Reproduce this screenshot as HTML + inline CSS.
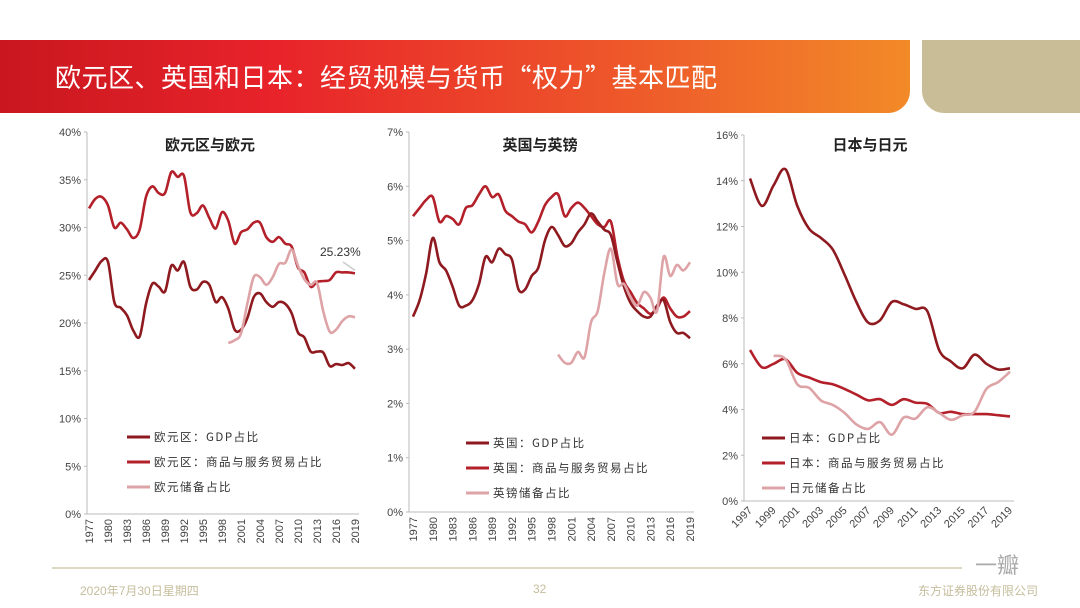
<!DOCTYPE html>
<html><head><meta charset="utf-8">
<style>
body{margin:0;width:1080px;height:608px;background:#fff;overflow:hidden;font-family:"Liberation Sans","Noto Sans CJK SC",sans-serif;position:relative}
.hdr{position:absolute;left:0;top:40px;width:910px;height:73px;background:linear-gradient(90deg,#c9171f 0%,#e8232a 30%,#ee5a2a 70%,#f28a28 100%);border-bottom-right-radius:22px}
.hdr span{position:absolute;left:55px;top:18px;color:#fff;font-size:26px;font-family:"Noto Sans CJK SC",sans-serif;letter-spacing:0.5px}
.beige{position:absolute;left:922px;top:40px;width:158px;height:73px;background:#c9bd98;border-bottom-left-radius:22px}
.foot{position:absolute;top:582px;font-size:12px;color:#c5bd9c;font-family:"Liberation Sans","Noto Sans CJK SC",sans-serif}
.line{position:absolute;left:52px;top:567px;width:910px;height:2px;background:#dcd8c4}
</style></head><body>
<div class="hdr"><span>欧元区、英国和日本：经贸规模与货币“权力”基本匹配</span></div>
<div class="beige"></div>
<svg id="c" width="1080" height="608" style="position:absolute;left:0;top:0"></svg>
<div class="line"></div>
<div class="foot" style="left:80px">2020年7月30日星期四</div>
<div class="foot" style="left:533px">32</div>
<div class="foot" style="left:918px">东方证券股份有限公司</div>
<div class="foot" style="left:975px;top:548px;font-size:22px;color:#aaa">一瓣</div>
<script>
// Chart 1 data: Eurozone
const ezYears=[];for(let y=1977;y<=2019;y++)ezYears.push(y);
const ezTrade=[32.0,33.0,33.2,32.3,30.0,30.5,29.8,28.9,29.8,33.2,34.3,33.6,33.6,35.8,35.3,35.4,31.6,31.5,32.3,31.0,29.9,31.6,30.7,28.3,29.5,29.8,30.5,30.5,29.0,28.5,29.0,28.3,28.0,25.8,25.3,23.8,24.3,24.4,24.5,25.3,25.3,25.3,25.2];
const ezGdp=[24.5,25.5,26.5,26.4,22.2,21.6,20.8,19.2,18.6,22.0,24.1,23.8,23.3,26.0,25.5,26.4,23.8,23.5,24.3,24.0,22.2,22.7,21.5,19.3,19.3,20.5,22.7,23.1,22.2,21.7,22.2,22.0,21.0,19.0,18.5,17.0,17.0,16.9,15.5,15.7,15.6,15.8,15.2];
const ezRes=[17.9,18.2,18.9,22.0,24.8,24.8,24.0,24.8,26.2,26.3,27.7,26.0,24.6,24.0,24.2,21.2,19.1,19.3,20.2,20.7,20.6];
const ezTicks=[0,5,10,15,20,25,30,35,40];
// Chart 2 data: UK
const ukTrade=[5.45,5.6,5.75,5.8,5.35,5.45,5.4,5.3,5.6,5.65,5.85,6.0,5.8,5.85,5.55,5.45,5.35,5.3,5.15,5.35,5.65,5.8,5.85,5.45,5.6,5.7,5.6,5.45,5.3,5.25,5.35,4.7,4.25,4.05,3.85,3.75,3.65,3.75,3.95,3.75,3.6,3.6,3.7];
const ukGdp=[3.6,3.9,4.4,5.05,4.6,4.45,4.15,3.8,3.8,3.9,4.2,4.7,4.6,4.85,4.75,4.65,4.1,4.1,4.35,4.5,5.0,5.25,5.1,4.9,4.95,5.15,5.3,5.5,5.35,5.2,5.1,4.6,4.15,3.85,3.7,3.6,3.6,3.8,3.9,3.5,3.3,3.3,3.2];
const ukRes=[2.9,2.75,2.75,2.95,2.85,3.5,3.7,4.4,4.85,4.2,4.2,3.95,3.8,4.05,3.95,3.7,4.7,4.35,4.55,4.45,4.6];
const ukTicks=[0,1,2,3,4,5,6,7];
// Chart 3 data: Japan
const jpYears=[];for(let y=1997;y<=2019;y++)jpYears.push(y);
const jpGdp=[14.1,12.9,13.8,14.5,12.9,11.9,11.5,11.0,9.9,8.7,7.8,7.9,8.7,8.6,8.4,8.3,6.6,6.1,5.8,6.4,6.0,5.75,5.8];
const jpTrade=[6.6,5.85,6.0,6.2,5.6,5.4,5.2,5.1,4.9,4.65,4.4,4.45,4.2,4.45,4.3,4.25,3.85,3.9,3.8,3.8,3.8,3.75,3.7];
const jpRes=[6.35,6.2,5.1,4.95,4.4,4.2,3.85,3.35,3.15,3.45,2.9,3.65,3.6,4.1,3.85,3.55,3.75,3.9,4.9,5.2,5.65];
const jpTicks=[0,2,4,6,8,10,12,14,16];

const NS='http://www.w3.org/2000/svg';
const svg=document.getElementById('c');
function mk(t,a,p){const e=document.createElementNS(NS,t);for(const k in a)e.setAttribute(k,a[k]);(p||svg).appendChild(e);return e;}
const C_GDP='#8e1a20',C_TR='#b3202a',C_RES='#dea3a6';
function smooth(pts){let d='M'+pts[0][0]+','+pts[0][1];for(let i=0;i<pts.length-1;i++){const p0=pts[i-1]||pts[i],p1=pts[i],p2=pts[i+1],p3=pts[i+2]||p2;const c1=[p1[0]+(p2[0]-p0[0])/6,p1[1]+(p2[1]-p0[1])/6],c2=[p2[0]-(p3[0]-p1[0])/6,p2[1]-(p3[1]-p1[1])/6];d+=' C'+c1[0].toFixed(1)+','+c1[1].toFixed(1)+' '+c2[0].toFixed(1)+','+c2[1].toFixed(1)+' '+p2[0].toFixed(1)+','+p2[1].toFixed(1);}return d;}
function chart(o){
  const g=mk('g',{});
  
  
  const yS=v=>o.y0-(v/o.ymax)*(o.y0-o.y1);
  const xS=yr=>o.x0+(yr-o.years[0])/(o.years[o.years.length-1]-o.years[0])*(o.x1-o.x0);
  const ax=mk('line',{x1:o.ax,y1:o.y1,x2:o.ax,y2:o.y0,stroke:'#bbb','stroke-width':1},g);
  
  const bx=mk('line',{x1:o.ax,y1:o.y0,x2:o.x1+4,y2:o.y0,stroke:'#bbb','stroke-width':1},g);
  
  o.ticks.forEach(t=>{const y=yS(t);mk('line',{x1:o.ax-3,y1:y,x2:o.ax,y2:y,stroke:'#bbb'},g);
    const tx=mk('text',{x:o.ax-6,y:y+4,'text-anchor':'end','font-size':11,fill:'#444'},g);tx.textContent=t+'%';
    });
  o.years.forEach((yr,i)=>{if(i%o.step)return;const x=xS(yr);let tx;
    if(o.diag){tx=mk('text',{x:x+3,y:o.y0+10,'text-anchor':'end','font-size':11,fill:'#444',transform:`rotate(-45 ${x+3} ${o.y0+10})`},g);}
    else{tx=mk('text',{x:x+4,y:o.y0+5,'text-anchor':'end','font-size':11,fill:'#444',transform:`rotate(-90 ${x+4} ${o.y0+5})`},g);}
    tx.textContent=yr;});
  const tt=mk('text',{x:o.tx,y:150,'text-anchor':'middle','font-size':15,'font-weight':'bold',fill:'#222','font-family':'"Noto Sans CJK SC",sans-serif'},g);
  tt.textContent=o.title;
  o.series.forEach(s=>{const pts=s.vals.map((v,i)=>[xS(s.start+i),yS(v)]);
    const p=mk('path',{d:smooth(pts),fill:'none',stroke:s.c,'stroke-width':2.6,'stroke-linejoin':'round'},g);
    });
  o.legend.forEach((l,i)=>{const y=o.ly+i*25;
    const ln=mk('line',{x1:o.lx,y1:y,x2:o.lx+23,y2:y,stroke:l.c,'stroke-width':3},g);
    
    const t=mk('text',{x:o.lx+27,y:y+4,'font-size':11.5,fill:'#333','font-family':'"Noto Sans CJK SC",sans-serif','letter-spacing':'1.5'},g);
    t.textContent=l.t;});
  return {xS,yS,g};
}
const c1=chart({name:'eurozone-chart',years:ezYears,ax:87,x0:89,x1:355,y0:514,y1:132,ymax:40,ticks:ezTicks,step:3,title:'欧元区与欧元',tx:210,
  series:[{vals:ezTrade,start:1977,c:C_TR,n:'eurozone-trade-line'},{vals:ezGdp,start:1977,c:C_GDP,n:'eurozone-gdp-line'},{vals:ezRes,start:1999,c:C_RES,n:'euro-reserve-line'}],
  lx:127,ly:437,legend:[{c:C_GDP,t:'欧元区：GDP占比'},{c:C_TR,t:'欧元区：商品与服务贸易占比'},{c:C_RES,t:'欧元储备占比'}]});
const an=mk('text',{x:320,y:256,'font-size':12,fill:'#333'},c1.g);an.textContent='25.23%';

const al=mk('line',{x1:343,y1:262,x2:c1.xS(2019),y2:c1.yS(ezTrade[ezTrade.length-1])-3,stroke:'#ccc','stroke-width':1.5},c1.g);

chart({name:'uk-chart',years:ezYears,ax:409,x0:413,x1:690,y0:512,y1:132,ymax:7,ticks:ukTicks,step:3,title:'英国与英镑',tx:540,
  series:[{vals:ukTrade,start:1977,c:C_TR,n:'uk-trade-line'},{vals:ukGdp,start:1977,c:C_GDP,n:'uk-gdp-line'},{vals:ukRes,start:1999,c:C_RES,n:'gbp-reserve-line'}],
  lx:466,ly:443,legend:[{c:C_GDP,t:'英国：GDP占比'},{c:C_TR,t:'英国：商品与服务贸易占比'},{c:C_RES,t:'英镑储备占比'}]});
chart({name:'japan-chart',years:jpYears,ax:744,x0:750,x1:1010,y0:501,y1:135,ymax:16,ticks:jpTicks,step:2,diag:true,title:'日本与日元',tx:870,
  series:[{vals:jpTrade,start:1997,c:C_TR,n:'japan-trade-line'},{vals:jpGdp,start:1997,c:C_GDP,n:'japan-gdp-line'},{vals:jpRes,start:1999,c:C_RES,n:'jpy-reserve-line'}],
  lx:762,ly:438,legend:[{c:C_GDP,t:'日本：GDP占比'},{c:C_TR,t:'日本：商品与服务贸易占比'},{c:C_RES,t:'日元储备占比'}]});
</script>
</body></html>
